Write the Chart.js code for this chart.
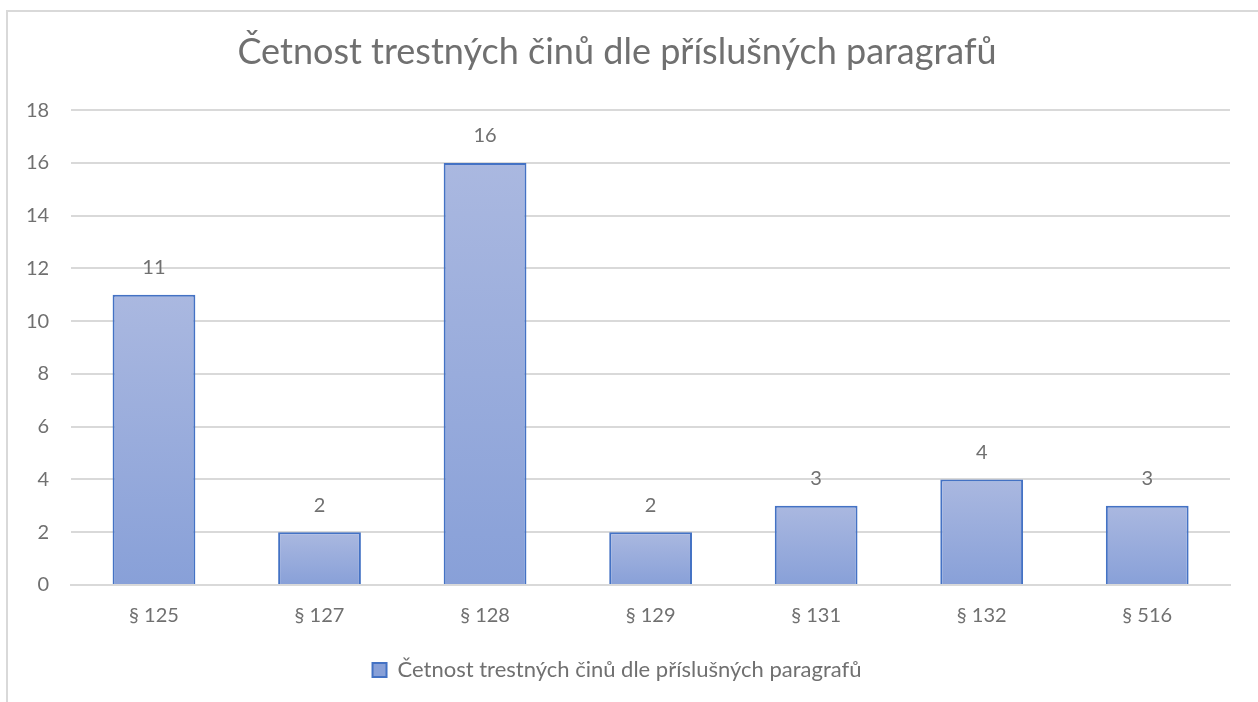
<!DOCTYPE html>
<html lang="cs">
<head>
    <meta charset="UTF-8">
    <title>Četnost trestných činů</title>
    <script src="https://cdn.jsdelivr.net/npm/chart.js"></script>
    <style>
        html, body {
            margin: 0;
            padding: 0;
            background: #fff;
            overflow: hidden;
        }
        .frame {
            position: absolute;
            left: 6px;
            top: 10px;
            width: 1400px;
            height: 900px;
            border: 2px solid #d9d9d9;
        }
        .chart-box {
            position: absolute;
            left: 0;
            top: 0;
            width: 1258px;
            height: 702px;
        }
    </style>
</head>
<body>
    <div class="frame"></div>
    <div class="chart-box">
        <canvas id="barChart"></canvas>
    </div>

    <script>
        const title = 'Četnost trestných činů dle příslušných paragrafů';
        const categories = ['§ 125', '§ 127', '§ 128', '§ 129', '§ 131', '§ 132', '§ 516'];
        const counts = [11, 2, 16, 2, 3, 4, 3];
        const yTicks = [0, 2, 4, 6, 8, 10, 12, 14, 16, 18];

        const textColor = '#707070';
        const fontFamily = 'Lato, "Open Sans", sans-serif';

        // gradient per bar, light at the top, darker at the bottom
        function barFill(ctx) {
            const chart = ctx.chart;
            const y = chart.scales.y;
            if (!chart.chartArea || !y || ctx.type !== 'data') return '#9aaedd';
            const top = y.getPixelForValue(ctx.raw);
            const bottom = y.getPixelForValue(0);
            if (!isFinite(top) || !isFinite(bottom) || top === bottom) return '#9aaedd';
            const g = chart.ctx.createLinearGradient(0, top, 0, bottom);
            g.addColorStop(0, '#aab8e0');
            g.addColorStop(1, '#88a0d8');
            return g;
        }

        // value labels above each bar
        const valueLabels = {
            id: 'valueLabels',
            afterDatasetsDraw(chart) {
                const ctx = chart.ctx;
                const meta = chart.getDatasetMeta(0);
                ctx.save();
                ctx.font = '20px ' + fontFamily;
                ctx.fillStyle = textColor;
                ctx.textAlign = 'center';
                ctx.textBaseline = 'middle';
                meta.data.forEach((bar, i) => {
                    ctx.fillText(String(counts[i]), bar.x, bar.y - 27);
                });
                ctx.restore();
            }
        };

        new Chart(document.getElementById('barChart'), {
            type: 'bar',
            data: {
                labels: categories,
                datasets: [{
                    label: title,
                    data: counts,
                    backgroundColor: barFill,
                    borderColor: '#4472c4',
                    borderWidth: 2,
                    categoryPercentage: 1,
                    barPercentage: 0.5
                }]
            },
            options: {
                responsive: true,
                maintainAspectRatio: false,
                animation: false,
                layout: {
                    padding: { left: 4, right: 28, top: 31, bottom: 11 }
                },
                plugins: {
                    title: {
                        display: true,
                        text: title,
                        color: textColor,
                        font: { family: fontFamily, size: 36, weight: 'normal' },
                        padding: { top: 0, bottom: 36 }
                    },
                    legend: {
                        position: 'bottom',
                        labels: {
                            color: textColor,
                            font: { family: fontFamily, size: 22 },
                            boxWidth: 14,
                            boxHeight: 14,
                            padding: 20
                        }
                    },
                    tooltip: { enabled: false }
                },
                scales: {
                    x: {
                        grid: { display: false },
                        border: { color: '#d9d9d9', width: 2 },
                        ticks: {
                            color: textColor,
                            font: { family: fontFamily, size: 20 },
                            padding: 11
                        }
                    },
                    y: {
                        min: 0,
                        max: 18,
                        afterBuildTicks(axis) {
                            axis.ticks = yTicks.map(v => ({ value: v }));
                        },
                        grid: { color: '#d9d9d9', lineWidth: 2, drawTicks: false },
                        border: { display: false },
                        ticks: {
                            color: textColor,
                            font: { family: fontFamily, size: 20 },
                            padding: 22
                        }
                    }
                }
            },
            plugins: [valueLabels]
        });
    </script>
</body>
</html>
